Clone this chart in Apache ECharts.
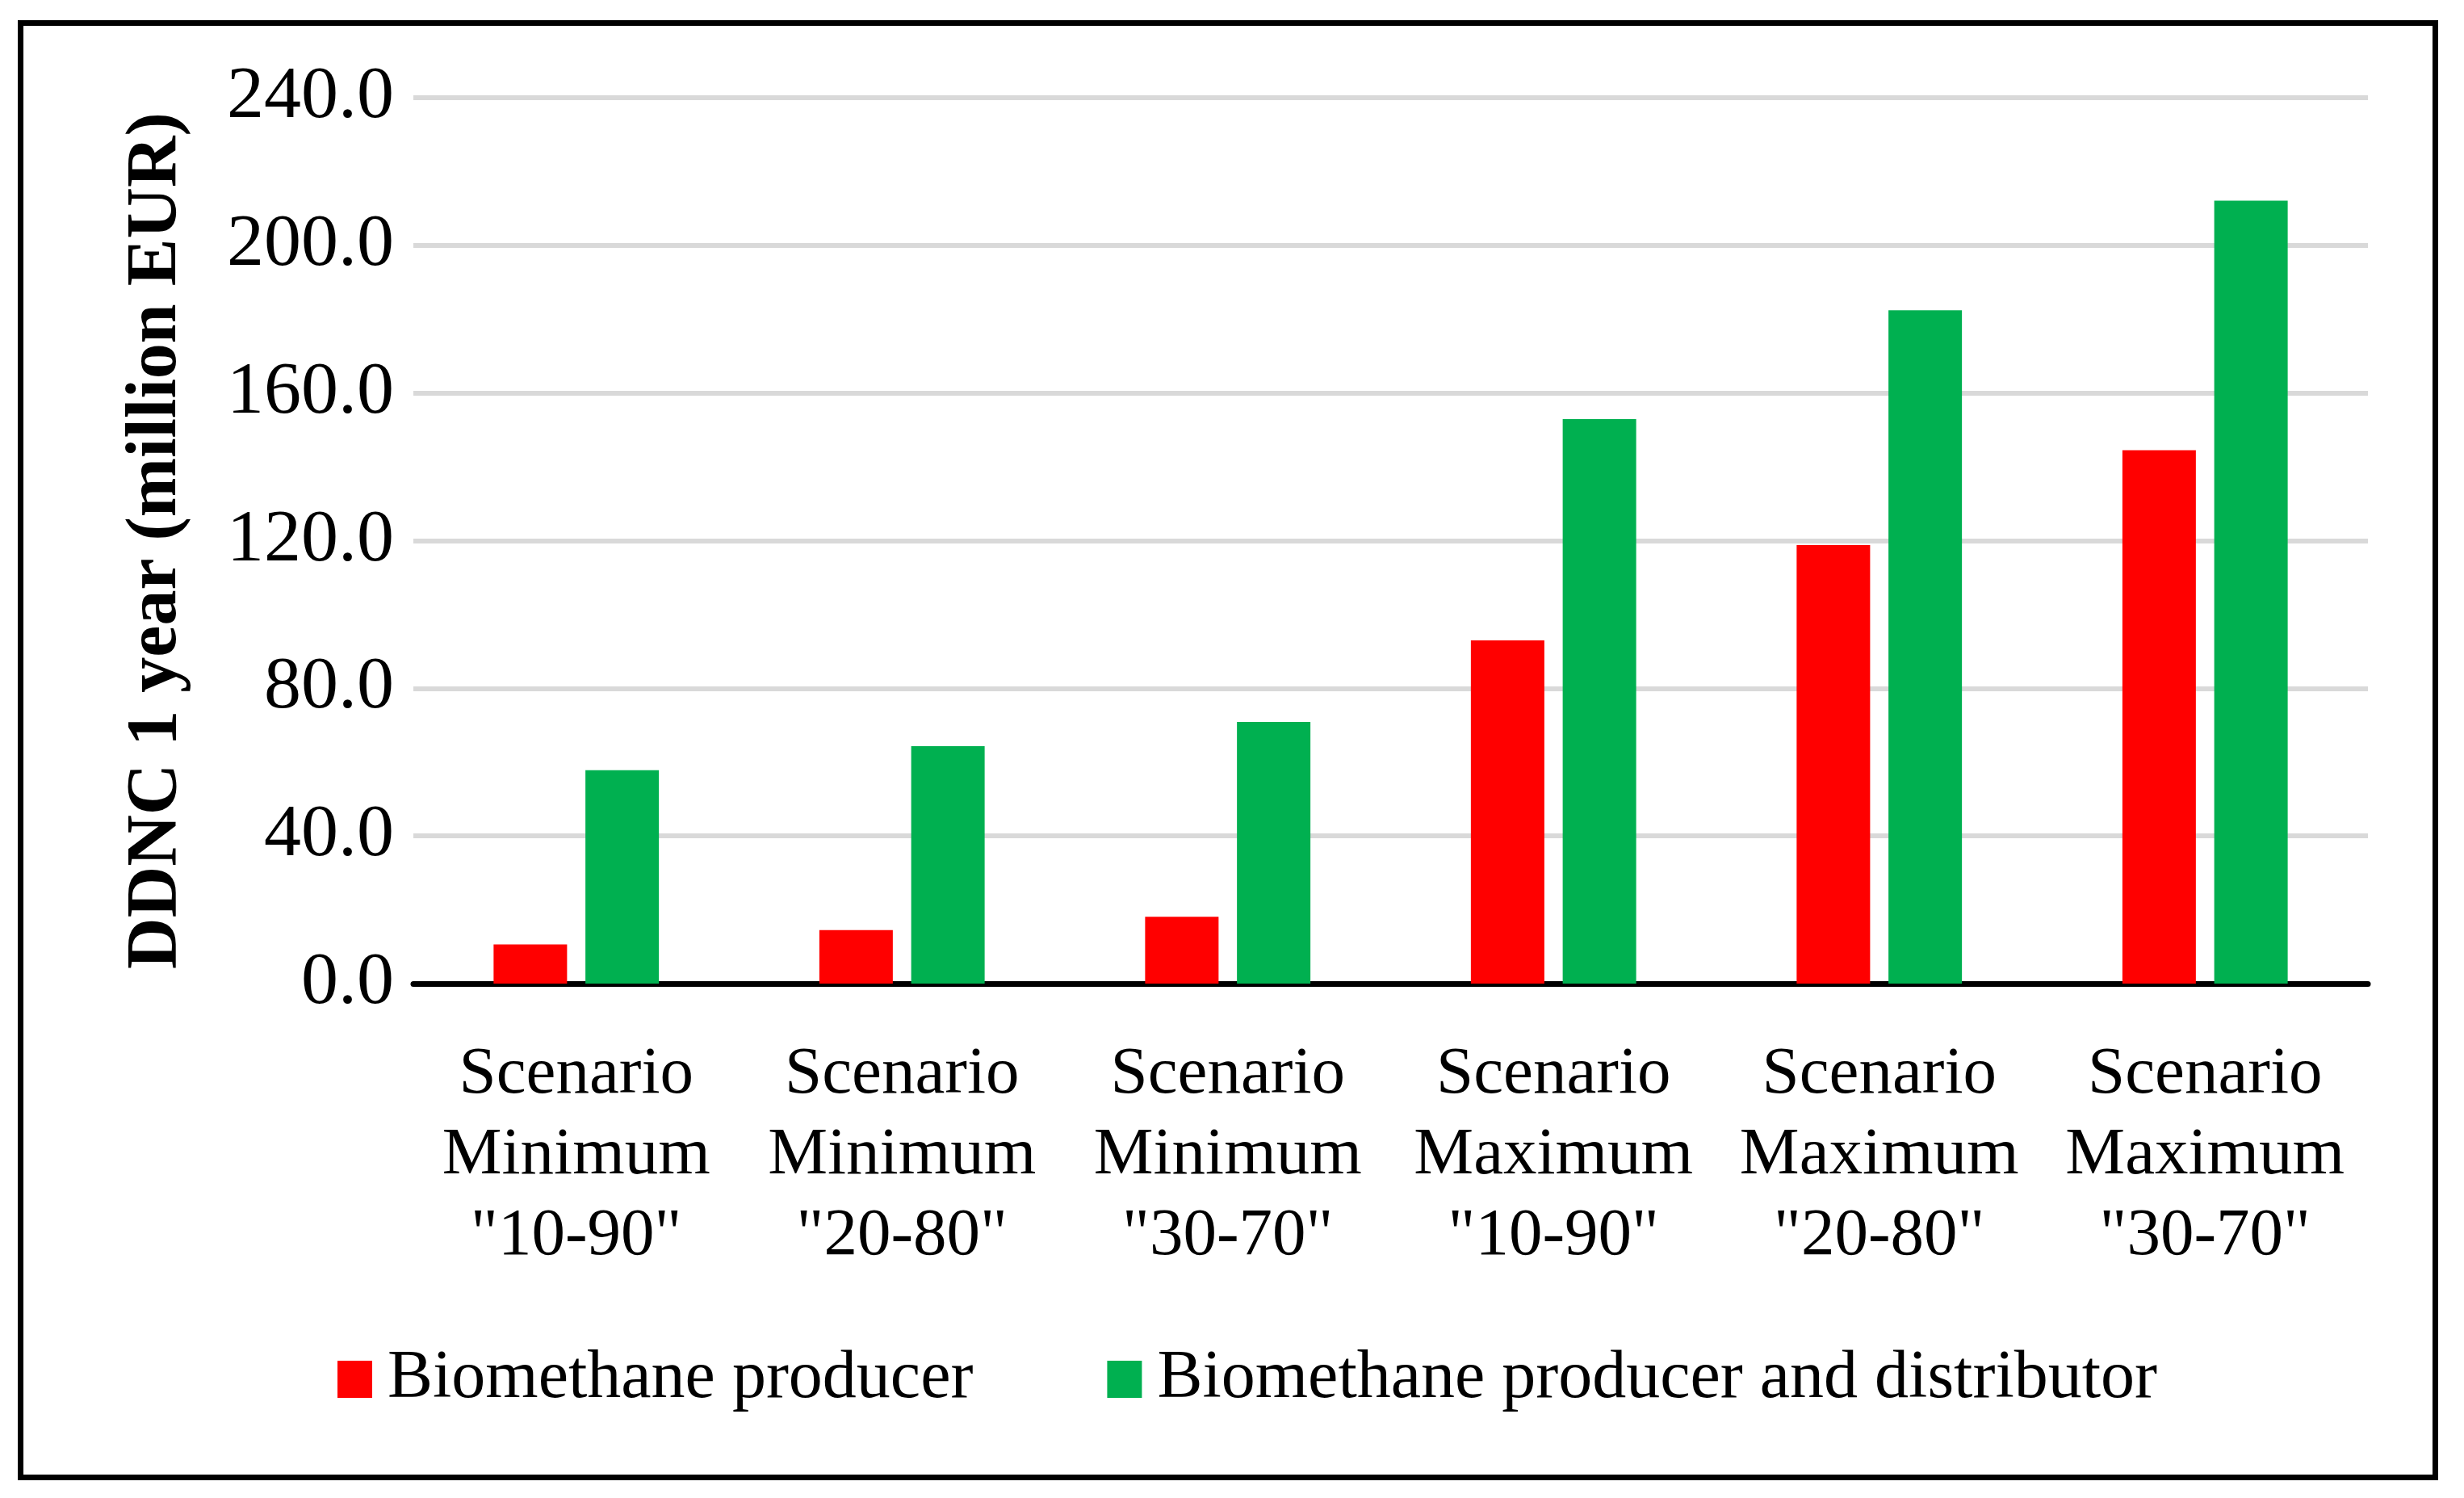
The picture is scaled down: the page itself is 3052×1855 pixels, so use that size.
<!DOCTYPE html>
<html>
<head>
<meta charset="utf-8">
<script src="https://cdn.jsdelivr.net/npm/echarts@6/dist/echarts.min.js"></script>
<style>
  html, body { margin: 0; padding: 0; background: #ffffff; }
  #chart { width: 3052px; height: 1855px; }
</style>
</head>
<body>
<div id="chart"></div>
<script>
// ---- data ----
const categories = [
  'Scenario\nMinimum\n"10-90"',
  'Scenario\nMinimum\n"20-80"',
  'Scenario\nMinimum\n"30-70"',
  'Scenario\nMaximum\n"10-90"',
  'Scenario\nMaximum\n"20-80"',
  'Scenario\nMaximum\n"30-70"'
];
const seriesNames = ['Biomethane producer', 'Biomethane producer and distributor'];
const producer = [10.6, 14.5, 18.1, 93.0, 118.8, 144.5];
const producerDistributor = [57.8, 64.3, 70.9, 152.9, 182.4, 212.1];
const yTicks = { min: 0, max: 240, interval: 40 };
const yAxisTitle = 'DDNC 1 year (million EUR)';

// ---- chart ----
const FONT = '"Liberation Serif", "Times New Roman", serif';
const chart = echarts.init(document.getElementById('chart'), null, { renderer: 'canvas' });
chart.setOption({
  backgroundColor: '#ffffff',
  animation: false,
  textStyle: { fontFamily: FONT, color: '#000000' },
  graphic: [{
    type: 'rect',
    shape: { x: 25.5, y: 28.5, width: 2991, height: 1801 },
    style: { fill: 'none', stroke: '#000000', lineWidth: 7 },
    z: 100
  }],
  grid: { left: 512, right: 119, top: 121, bottom: 637, containLabel: false },
  legend: {
    data: seriesNames,
    left: 413,
    top: 1661,
    height: 100,
    itemWidth: 43,
    itemHeight: 46,
    itemGap: 166,
    icon: 'rect',
    textStyle: { fontFamily: FONT, fontSize: 84, color: '#000000', padding: [0, 0, 0, 14] },
    selectedMode: false
  },
  xAxis: {
    type: 'category',
    data: categories,
    axisLine: { lineStyle: { color: '#000000', width: 7 } },
    axisTick: { show: false },
    axisLabel: {
      interval: 0,
      margin: 63,
      fontFamily: FONT,
      fontSize: 83,
      lineHeight: 100,
      color: '#000000',
      align: 'center'
    },
    splitLine: { show: false }
  },
  yAxis: {
    type: 'value',
    min: yTicks.min,
    max: yTicks.max,
    interval: yTicks.interval,
    name: yAxisTitle,
    nameLocation: 'middle',
    nameGap: 274,
    nameRotate: 90,
    nameTextStyle: { fontFamily: FONT, fontSize: 88, fontWeight: 'bold', color: '#000000' },
    axisLine: { show: false },
    axisTick: { show: false },
    axisLabel: {
      margin: 24,
      fontFamily: FONT,
      fontSize: 92,
      color: '#000000',
      formatter: v => v.toFixed(1)
    },
    splitLine: { lineStyle: { color: '#D9D9D9', width: 6 } }
  },
  series: [
    {
      name: seriesNames[0],
      type: 'bar',
      data: producer,
      barWidth: 91,
      barGap: '25%',
      itemStyle: { color: '#FF0000' }
    },
    {
      name: seriesNames[1],
      type: 'bar',
      data: producerDistributor,
      barWidth: 91,
      barGap: '25%',
      itemStyle: { color: '#00B050' }
    }
  ]
});
</script>
</body>
</html>
